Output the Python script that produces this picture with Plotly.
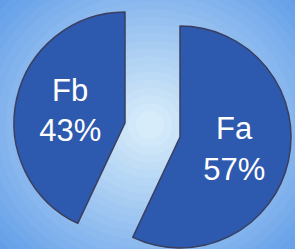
import plotly.graph_objects as go

labels = ["Fa", "Fb"]
values = [57, 43]
slice_color = "#2D59AE"
edge_color = "#3A3F5E"

W, H = 295, 249

fig = go.Figure()

# each slice drawn as its own pie (other slice transparent) so they can be separated
domains = {
    "Fa": dict(x=[69 / W, 291 / W], y=[1 - 248 / H, 1 - 26 / H]),
    "Fb": dict(x=[14 / W, 236 / W], y=[1 - 234 / H, 1 - 12 / H]),
}
for i, lab in enumerate(labels):
    colors = ["rgba(0,0,0,0)"] * len(labels)
    colors[i] = slice_color
    lines = ["rgba(0,0,0,0)"] * len(labels)
    lines[i] = edge_color
    tmpl = [""] * len(labels)
    tmpl[i] = "%{label}<br>%{percent:.0%}"
    fig.add_trace(go.Pie(
        labels=labels, values=values, sort=False, direction="clockwise",
        rotation=0, domain=domains[lab],
        marker=dict(colors=colors, line=dict(color=lines, width=1.5)),
        texttemplate=tmpl, textposition="inside",
        insidetextorientation="horizontal",
        insidetextfont=dict(color="white", size=31, family="Liberation Sans, Arial"),
        hoverinfo="skip", showlegend=False,
    ))

# radial-ish background gradient from concentric ellipses
outer = (94, 155, 232)
inner = (214, 236, 250)
shapes = []
n = 24
cx, cy = 150, 125
for k in range(n):
    t = k / (n - 1)
    rx = 200 * (1 - t) + 14
    ry = 180 * (1 - t) + 14
    c = tuple(int(outer[j] + (inner[j] - outer[j]) * t) for j in range(3))
    shapes.append(dict(
        type="circle", xref="paper", yref="paper", layer="below",
        x0=(cx - rx) / W, x1=(cx + rx) / W,
        y0=1 - (cy + ry) / H, y1=1 - (cy - ry) / H,
        fillcolor="rgb(%d,%d,%d)" % c, line=dict(width=0),
    ))

fig.update_layout(
    width=W, height=H, margin=dict(l=0, r=0, t=0, b=0),
    paper_bgcolor="rgb(%d,%d,%d)" % outer,
    plot_bgcolor="rgba(0,0,0,0)",
    shapes=shapes, showlegend=False,
)

fig.write_html(
    "out.html",
    config={"displayModeBar": False},
    post_script="document.body.style.margin='0';document.body.style.overflow='hidden';",
)
